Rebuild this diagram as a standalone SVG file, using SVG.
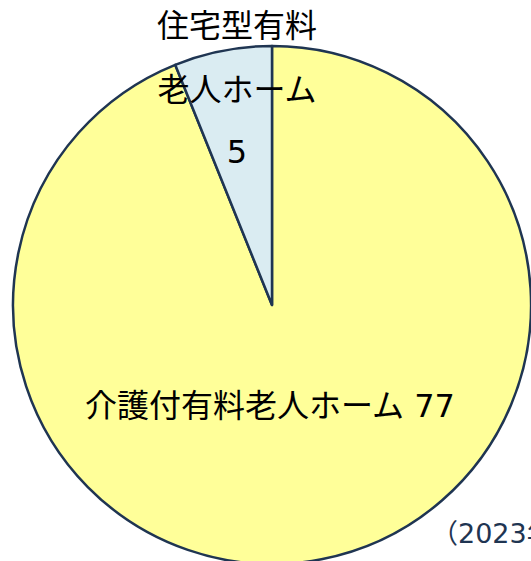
<svg xmlns="http://www.w3.org/2000/svg" width="531" height="561" viewBox="0 0 531 561">
<style>
.slice{stroke:#1f3552;stroke-width:2.5;stroke-linejoin:round}
.lbl{font-family:"DejaVu Sans","Noto Sans CJK JP",sans-serif;font-size:32px;fill:#000;text-anchor:middle}
.note{font-family:"DejaVu Sans","Noto Sans CJK JP",sans-serif;font-size:27px;fill:#1f3552}
</style>
<rect width="531" height="561" fill="#ffffff"/>
<g id="slice-kaigo">
<path class="slice" d="M272,305 L272,46 A259,259 0 1,1 175.2,64.8 Z" fill="#ffff99"/>
</g>
<g id="slice-jutaku">
<path class="slice" d="M272,305 L175.2,64.8 A259,259 0 0,1 272,46 Z" fill="#daecf2"/>
</g>
<g id="label-jutaku">
<text class="lbl" x="237" y="37">住宅型有料</text>
<text class="lbl" x="237" y="101">老人ホーム</text>
<text class="lbl" x="237" y="163">5</text>
</g>
<g id="label-kaigo">
<text class="lbl" x="270" y="417">介護付有料老人ホーム 77</text>
</g>
<g id="note">
<text class="note" x="431" y="543">（2023年</text>
</g>
</svg>
